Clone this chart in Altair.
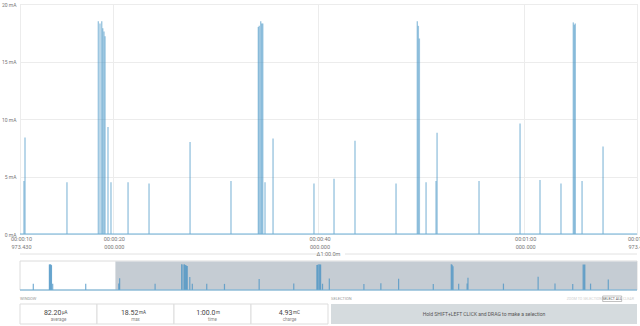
import altair as alt
import pandas as pd

# ---- data ----
spike_t = [1.53, 3.38, 3.46, 3.54, 3.62, 3.76, 7.56,
           11.36, 11.46, 15.54, 18.59, 18.75, 18.92, 19.02, 19.14, 19.24, 19.53, 19.82,
           21.48, 23.52, 27.51, 31.49, 34.15, 34.24, 34.38, 34.48, 34.58, 34.80, 35.58,
           39.56, 41.51, 43.55, 47.54, 49.61, 49.71, 49.81, 50.46, 51.43, 51.53, 55.61,
           59.60, 61.54, 63.58, 64.78, 64.88, 64.97, 65.63, 67.67]
spike_mA = [4.5, 18.3, 18.5, 18.4, 17.9, 4.5, 4.5,
            4.6, 8.4, 4.5, 18.5, 18.3, 18.5, 17.9, 17.6, 17.2, 9.3, 4.5,
            4.5, 4.4, 8.0, 4.6, 18.0, 18.1, 18.5, 18.3, 18.3, 4.5, 8.3,
            4.4, 4.8, 8.1, 4.4, 18.5, 18.1, 17.0, 4.5, 4.6, 8.8, 4.6,
            9.6, 4.7, 4.4, 18.4, 18.2, 18.3, 4.6, 7.6]

rec_start = 0.0
win_start = 10.973
win_end = 70.973
y_ticks = [0, 5, 10, 15, 20]

tick_t = [10.973, 20, 40, 60, 70.973]
tick_top = ["00:00:10", "00:00:20", "00:00:40", "00:01:00", "00:01:10"]
tick_bottom = ["973.430", "000.000", "000.000", "000.000", "973.430"]
delta_label = "\u03941:00.0m"

stat_values = ["82.20", "18.52", "1:00.0", "4.93"]
stat_units = ["\u00b5A", "mA", "m", "mC"]
stat_labels = ["average", "max", "time", "charge"]

spikes = pd.DataFrame({"t": spike_t, "mA": spike_mA})
ticks = pd.DataFrame({"t": tick_t, "top": tick_top, "bottom": tick_bottom})
stats = pd.DataFrame({"value": stat_values, "unit": stat_units, "label": stat_labels})
one = pd.DataFrame({"k": [0]})

W, H = 617, 230
xmain = alt.Scale(domain=[win_start, win_end], nice=False, zero=False)
ymain = alt.Scale(domain=[0, 20], nice=False)
xov = alt.Scale(domain=[rec_start, win_end], nice=False, zero=False, range=[0, W])
yov = alt.Scale(domain=[0, 20], nice=False, range=[286, 258.2])
band = alt.Scale(domain=stat_labels, range=[0, 308], paddingInner=0, paddingOuter=0)

BLUE = "#4a97c7"
GREY_TXT = "#777777"

# main spikes with axes / grid
main_spikes = alt.Chart(spikes).transform_filter(
    f"datum.t >= {win_start}"
).mark_rule(color=BLUE, strokeWidth=1.4, opacity=0.55).encode(
    x=alt.X("t:Q", scale=xmain,
            axis=alt.Axis(values=tick_t, grid=True, gridColor="#ececec", labels=False,
                          ticks=False, domain=False, title=None)),
    y=alt.Y("mA:Q", scale=ymain,
            axis=alt.Axis(values=y_ticks, labelExpr="datum.value + ' mA'", grid=True,
                          gridColor="#ececec", domain=False, ticks=False, labelFontSize=5,
                          labelColor=GREY_TXT, labelPadding=4, title=None)),
    y2=alt.datum(0),
)

main_base = alt.Chart(one).mark_rule(color="#6aaed6", strokeWidth=1).encode(
    x=alt.X(datum=win_start, scale=xmain, axis=None),
    x2=alt.datum(win_end),
    y=alt.Y(datum=0, scale=ymain, axis=None),
)

tick_top_txt = alt.Chart(ticks).mark_text(fontSize=5.5, color=GREY_TXT, baseline="middle", dx=1.5).encode(
    x=alt.X("t:Q", scale=xmain, axis=None),
    y=alt.value(234.5),
    text="top:N",
)
tick_bot_txt = alt.Chart(ticks).mark_text(fontSize=5.5, color=GREY_TXT, baseline="middle", dx=1.5).encode(
    x=alt.X("t:Q", scale=xmain, axis=None),
    y=alt.value(243.3),
    text="bottom:N",
)

mid = (win_start + win_end) / 2
delta_rule = alt.Chart(one).mark_rule(color="#e2e2e2", strokeWidth=1).encode(
    x=alt.X(datum=win_start, scale=xmain, axis=None),
    x2=alt.datum(win_end),
    y=alt.value(250),
)
delta_gap = alt.Chart(one).mark_rect(color="white").encode(
    x=alt.X(datum=mid - 0.9, scale=xmain, axis=None),
    x2=alt.datum(mid + 1.6),
    y=alt.value(246),
    y2=alt.value(254),
)
delta_txt = alt.Chart(one).mark_text(fontSize=5.5, color=GREY_TXT, baseline="middle").encode(
    x=alt.X(datum=mid, scale=xmain, axis=None),
    y=alt.value(250),
    text=alt.value(delta_label),
)

# overview
ov_frame = alt.Chart(one).mark_rect(fill="white", stroke="#dcdcdc", strokeWidth=1).encode(
    x=alt.value(0), x2=alt.value(W), y=alt.value(257), y2=alt.value(286),
)
ov_window = alt.Chart(one).mark_rect(color="#c5ccd3").encode(
    x=alt.X(datum=win_start, scale=xov, axis=None),
    x2=alt.datum(win_end),
    y=alt.value(257.5),
    y2=alt.value(286),
)
ov_spikes = alt.Chart(spikes).mark_rule(color="#4a93c4", strokeWidth=1.2, opacity=0.75).encode(
    x=alt.X("t:Q", scale=xov, axis=None),
    y=alt.Y("mA:Q", scale=yov, axis=None),
    y2=alt.datum(0),
)
ov_base = alt.Chart(one).mark_rule(color="#6aaed6", strokeWidth=1).encode(
    x=alt.X(datum=rec_start, scale=xov, axis=None),
    x2=alt.datum(win_end),
    y=alt.Y(datum=0, scale=yov, axis=None),
)

# info panel
window_lbl = alt.Chart(one).mark_text(fontSize=4, color="#999999", align="left", baseline="middle").encode(
    x=alt.value(0), y=alt.value(295), text=alt.value("WINDOW"))
sel_lbl = alt.Chart(one).mark_text(fontSize=4, color="#999999", align="left", baseline="middle").encode(
    x=alt.value(311), y=alt.value(295), text=alt.value("SELECTION"))

boxes = alt.Chart(stats).mark_rect(fill="white", stroke="#dddddd", strokeWidth=1).encode(
    x=alt.X("label:N", scale=band, axis=None, sort=stat_labels),
    y=alt.value(300), y2=alt.value(320),
)
val_txt = alt.Chart(stats).mark_text(fontSize=7, color="#444444", align="right", baseline="middle", dx=3).encode(
    x=alt.X("label:N", scale=band, axis=None, sort=stat_labels),
    y=alt.value(308.5), text="value:N")
unit_txt = alt.Chart(stats).mark_text(fontSize=4.5, color="#444444", align="left", baseline="middle", dx=3.5, dy=0.8).encode(
    x=alt.X("label:N", scale=band, axis=None, sort=stat_labels),
    y=alt.value(308.5), text="unit:N")
lab_txt = alt.Chart(stats).mark_text(fontSize=4.5, color="#888888", baseline="middle").encode(
    x=alt.X("label:N", scale=band, axis=None, sort=stat_labels),
    y=alt.value(315.5), text="label:N")

sel_box = alt.Chart(one).mark_rect(fill="#d5dbde").encode(
    x=alt.value(311), x2=alt.value(W), y=alt.value(300), y2=alt.value(320))
sel_txt = alt.Chart(one).mark_text(fontSize=5, color="#555555", baseline="middle").encode(
    x=alt.value(464), y=alt.value(310),
    text=alt.value("Hold SHIFT+LEFT CLICK and DRAG to make a selection"))

ctrl_zoom = alt.Chart(one).mark_text(fontSize=3.6, color="#cfcfcf", align="right", baseline="middle").encode(
    x=alt.value(581.8), y=alt.value(294.7), text=alt.value("ZOOM TO SELECTION"))
ctrl_box = alt.Chart(one).mark_rect(fill="white", stroke="#999999", strokeWidth=0.6).encode(
    x=alt.value(582.7), x2=alt.value(601.7), y=alt.value(292), y2=alt.value(297.5))
ctrl_all = alt.Chart(one).mark_text(fontSize=3.6, color="#555555", baseline="middle").encode(
    x=alt.value(592.2), y=alt.value(294.7), text=alt.value("SELECT ALL"))
ctrl_clear = alt.Chart(one).mark_text(fontSize=3.6, color="#cfcfcf", align="left", baseline="middle").encode(
    x=alt.value(603), y=alt.value(294.7), text=alt.value("CLEAR"))

chart = alt.layer(
    main_spikes, main_base, tick_top_txt, tick_bot_txt,
    delta_rule, delta_gap, delta_txt,
    ov_frame, ov_window, ov_spikes, ov_base,
    window_lbl, sel_lbl, boxes, val_txt, unit_txt, lab_txt,
    sel_box, sel_txt, ctrl_zoom, ctrl_box, ctrl_all, ctrl_clear,
).resolve_scale(x="independent", y="independent").properties(
    width=W, height=H,
    padding={"left": 20, "top": 4, "right": 3, "bottom": 92},
    autosize=alt.AutoSizeParams(type="none"),
).configure_view(stroke=None).configure(font="Roboto")

chart.save("out.html", embed_options={"renderer": "svg", "actions": False})
